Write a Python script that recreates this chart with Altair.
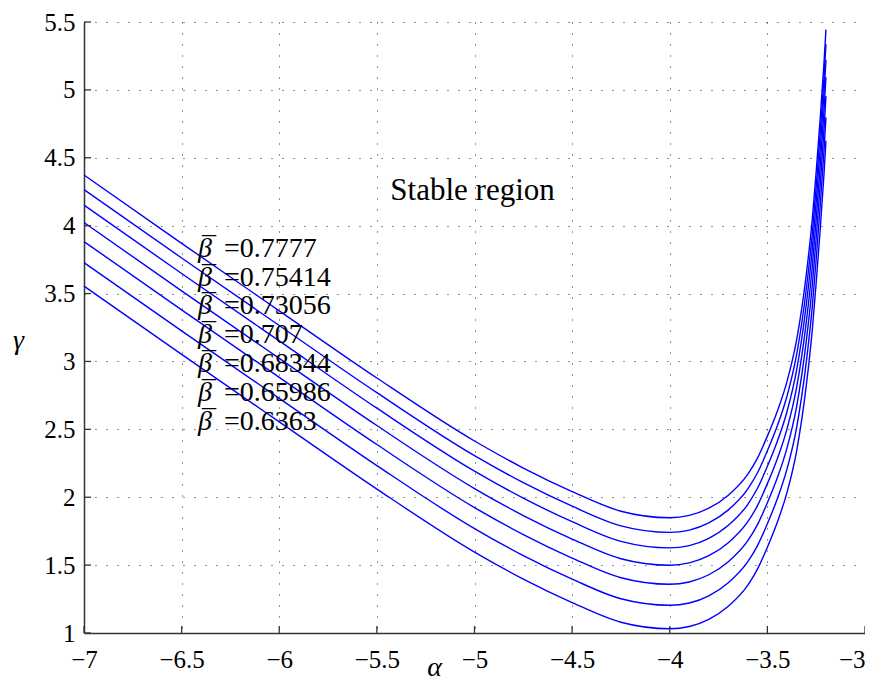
import altair as alt
import pandas as pd

# ---- data ----
alpha = [-7.0, -6.5, -6.0, -5.5, -5.0, -4.75, -4.5, -4.25, -4.0, -3.9, -3.8, -3.7,
         -3.6, -3.55, -3.5, -3.45, -3.4, -3.35, -3.3, -3.27, -3.25, -3.23, -3.21, -3.2]

gamma_07777 = [4.373, 3.870, 3.373, 2.878, 2.414, 2.215, 2.042, 1.897, 1.849, 1.866, 1.919, 2.015,
               2.170, 2.290, 2.450, 2.630, 2.850, 3.160, 3.649, 4.049, 4.399, 4.779, 5.199, 5.444]
gamma_075414 = [4.265, 3.762, 3.265, 2.770, 2.306, 2.107, 1.934, 1.789, 1.741, 1.758, 1.811, 1.907,
                2.062, 2.182, 2.342, 2.522, 2.742, 3.052, 3.541, 3.941, 4.291, 4.671, 5.091, 5.336]
gamma_073056 = [4.151, 3.648, 3.151, 2.656, 2.192, 1.993, 1.820, 1.675, 1.627, 1.644, 1.697, 1.793,
                1.948, 2.068, 2.228, 2.408, 2.628, 2.938, 3.427, 3.827, 4.177, 4.557, 4.977, 5.222]
gamma_0707 = [4.023, 3.520, 3.023, 2.528, 2.064, 1.865, 1.692, 1.547, 1.499, 1.516, 1.569, 1.665,
              1.820, 1.940, 2.100, 2.280, 2.500, 2.810, 3.299, 3.699, 4.049, 4.429, 4.849, 5.094]
gamma_068344 = [3.883, 3.380, 2.883, 2.388, 1.924, 1.725, 1.552, 1.407, 1.359, 1.376, 1.429, 1.525,
                1.680, 1.800, 1.960, 2.140, 2.360, 2.670, 3.159, 3.559, 3.909, 4.289, 4.709, 4.954]
gamma_065986 = [3.728, 3.225, 2.728, 2.233, 1.769, 1.570, 1.397, 1.252, 1.204, 1.221, 1.274, 1.370,
                1.525, 1.645, 1.805, 1.985, 2.205, 2.515, 3.004, 3.404, 3.754, 4.134, 4.554, 4.799]
gamma_06363 = [3.555, 3.052, 2.555, 2.060, 1.596, 1.397, 1.224, 1.079, 1.031, 1.048, 1.101, 1.197,
               1.352, 1.472, 1.632, 1.812, 2.032, 2.342, 2.831, 3.231, 3.581, 3.961, 4.381, 4.626]

beta_labels = ["0.7777", "0.75414", "0.73056", "0.707", "0.68344", "0.65986", "0.6363"]
series = [gamma_07777, gamma_075414, gamma_073056, gamma_0707, gamma_068344, gamma_065986, gamma_06363]

# annotation anchors (data coordinates)
label_alpha = -6.416
label_gamma = [3.831, 3.618, 3.405, 3.192, 2.979, 2.766, 2.553]
region_text = "Stable region"
region_alpha = -5.01
region_gamma = 4.257

x_ticks = [-7, -6.5, -6, -5.5, -5, -4.5, -4, -3.5, -3]
y_ticks = [1, 1.5, 2, 2.5, 3, 3.5, 4, 4.5, 5, 5.5]

# ---- tables ----
rows = []
for b, g in zip(beta_labels, series):
    for a, v in zip(alpha, g):
        rows.append({"alpha": a, "gamma": v, "beta": b})
df = pd.DataFrame(rows)

lab_df = pd.DataFrame({"alpha": [label_alpha] * len(beta_labels), "gamma": label_gamma,
                       "eq": ["=" + b for b in beta_labels]})
reg_df = pd.DataFrame({"alpha": [region_alpha], "gamma": [region_gamma], "t": [region_text]})
xt_df = pd.DataFrame({"alpha": x_ticks})
yt_df = pd.DataFrame({"gamma": y_ticks})

FONT = "Liberation Serif"
W, H = 781, 611

xs = alt.Scale(domain=[-7, -3], nice=False, zero=False)
ys = alt.Scale(domain=[1, 5.5], nice=False, zero=False)

grid_kw = dict(grid=True, gridDash=[1, 10], gridColor="#000000", gridOpacity=0.85, gridWidth=1)

xaxis = alt.Axis(values=x_ticks, format=".1~f",
                 labelExpr="datum.value == -3 ? datum.label : datum.label + '\u2007'",
                 labelAlign={"condition": {"test": "datum.value == -3", "value": "right"},
                             "value": "center"},
                 labelFont=FONT, labelFontSize=25, labelColor="#000000",
                 labelBaseline="alphabetic", labelPadding=34, labelFlush=False, labelOverlap=False,
                 ticks=False, tickSize=0, domainColor="#333333", domainWidth=1.5,
                 title="α", titleFont=FONT, titleFontSize=28, titleFontStyle="italic",
                 titleFontWeight="normal", titleColor="#000000", titleX=350, titleY=48,
                 titleBaseline="bottom", titleAlign="center", **grid_kw)
yaxis = alt.Axis(values=y_ticks, format=".1~f",
                 labelFont=FONT, labelFontSize=25, labelColor="#000000",
                 labelPadding=9, labelFlush=False, labelOverlap=False,
                 ticks=False, tickSize=0, domainColor="#333333", domainWidth=1.5,
                 title="γ", titleFont=FONT, titleFontSize=28, titleFontStyle="italic",
                 titleFontWeight="normal", titleColor="#000000", titleAngle=0,
                 titleX=-66, titleY=318, titleBaseline="middle", titleAlign="center", **grid_kw)

X = alt.X("alpha:Q", scale=xs, axis=xaxis)
Y = alt.Y("gamma:Q", scale=ys, axis=yaxis)

lines = alt.Chart(df).mark_line(color="#0000ff", strokeWidth=1.4, interpolate="monotone").encode(
    x=X, y=Y, detail="beta:N")

xticks = alt.Chart(xt_df).mark_rule(color="#333333", strokeWidth=1.3).encode(
    x=X, y=alt.value(H), y2=alt.value(H - 7))
yticks = alt.Chart(yt_df).mark_rule(color="#333333", strokeWidth=1.3).encode(
    y=Y, x=alt.value(0), x2=alt.value(7))

beta_sym = alt.Chart(lab_df).mark_text(align="left", baseline="middle", font=FONT, fontSize=28,
                                       fontStyle="italic", color="#000000").encode(
    x=X, y=Y, text=alt.value("β"))
beta_bar = alt.Chart(lab_df).mark_text(align="left", baseline="alphabetic", font=FONT, fontSize=28,
                                       dx=4, dy=7, color="#000000").encode(
    x=X, y=Y, text=alt.value("¯"))
beta_val = alt.Chart(lab_df).mark_text(align="left", baseline="middle", font=FONT, fontSize=28,
                                       dx=26, color="#000000").encode(
    x=X, y=Y, text="eq:N")
region = alt.Chart(reg_df).mark_text(align="center", baseline="middle", font=FONT, fontSize=31,
                                     color="#000000").encode(
    x=X, y=Y, text="t:N")

chart = alt.layer(lines, xticks, yticks, beta_sym, beta_bar, beta_val, region).properties(
    width=W, height=H,
    autosize=alt.AutoSizeParams(type="none"),
    padding={"left": 76, "top": 14, "right": 0, "bottom": 49},
    background="white",
).configure_view(stroke=None)

chart.save("out.html", embed_options={"renderer": "svg", "actions": False})
